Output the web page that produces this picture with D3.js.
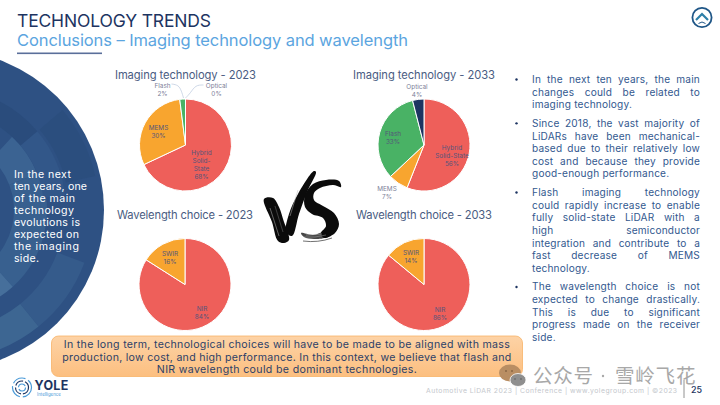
<!DOCTYPE html>
<html>
<head>
<meta charset="utf-8">
<script src="https://cdn.jsdelivr.net/npm/d3@7"></script>
<style>
html,body{margin:0;padding:0;background:#fff;}
svg{display:block;}
text{font-family:Inter,"Open Sans",sans-serif;}
</style>
</head>
<body>
<svg id="slide" width="720" height="405"></svg>
<script>
// pie data
var imaging2023Names = ["Hybrid Solid-State", "MEMS", "Flash", "Optical"];
var imaging2023Values = [68, 30, 2, 0];
var imaging2033Names = ["Hybrid Solid-State", "MEMS", "Flash", "Optical"];
var imaging2033Values = [56, 7, 33, 4];
var wavelength2023Names = ["NIR", "SWIR"];
var wavelength2023Values = [84, 16];
var wavelength2033Names = ["NIR", "SWIR"];
var wavelength2033Values = [86, 14];

// texts
var sideLines = ["In the next", "ten years, one", "of the main", "technology", "evolutions is", "expected on", "the imaging", "side."];
var sideWidths = [57, 73, 61, 60, 66, 65, 65, 25];
var calloutLines = [
  "In the long term, technological choices will have to be made to be aligned with mass",
  "production, low cost, and high performance. In this context, we believe that flash and",
  "NIR wavelength could be dominant technologies."
];
var calloutWidths = [446, 449, 260];
// each bullet: lines, last line of each is not justified
var bullets = [
  ["In the next ten years, the main", "changes could be related to", "imaging technology."],
  ["Since 2018, the vast majority of", "LiDARs have been mechanical-", "based due to their relatively low", "cost and because they provide", "good-enough performance."],
  ["Flash imaging technology", "could rapidly increase to enable", "fully solid-state LiDAR with a", "high semiconductor", "integration and contribute to a", "fast decrease of MEMS", "technology."],
  ["The wavelength choice is not", "expected to change drastically.", "This is due to significant", "progress made on the receiver", "side."]
];

var navy = "#1d3461", labelInk = "#55557a", outerInk = "#7d8199", titleInk = "#4a5c82", bodyInk = "#33598f";
var colorOf = {"Hybrid Solid-State":"#ee5f5a", "NIR":"#ee5f5a", "MEMS":"#f8a52f", "SWIR":"#f8a52f", "Flash":"#49b265", "Optical":"#1c3461"};

var svg = d3.select("#slide");

// fit a text element to a wanted width
function fitLetters(sel, w){
  var n = sel.text().length;
  var cur = sel.node().getComputedTextLength();
  sel.attr("letter-spacing", (w - cur) / (n - 1));
}

/******* header *******/
var t1 = svg.append("text").attr("x",17).attr("y",27).attr("font-size",17.5).attr("fill",navy).text("TECHNOLOGY TRENDS");
fitLetters(t1, 194);
var t2 = svg.append("text").attr("x",17).attr("y",46).attr("font-size",16.5).attr("fill","#5ba5e0").text("Conclusions \u2013 Imaging technology and wavelength");
fitLetters(t2, 391);
svg.append("rect").attr("x",17).attr("y",52.5).attr("width",85).attr("height",1.6).attr("fill","#5a6f9a");

// up button
var btn = svg.append("g").attr("transform","translate(702,17.5)");
btn.append("circle").attr("r",9.6).attr("fill","#fff").attr("stroke","#1f5687").attr("stroke-width",1.8);
btn.append("path").attr("d","M-6,2.5 L0,-3.5 L6,2.5").attr("fill","none").attr("stroke","#2d7fa8").attr("stroke-width",2.2);
btn.append("path").attr("d","M-3.5,6 Q0,3 3.5,6").attr("fill","none").attr("stroke","#1f5687").attr("stroke-width",1);

/******* left disc *******/
var disc = svg.append("g").attr("transform","translate(-56,210)");
disc.append("circle").attr("r",160).attr("fill","#2e5183");
var ringShades = [
  {r0:121,r1:150,a0:1.93,a1:2.46,c:"#355b8b"},
  {r0:121,r1:150,a0:2.46,a1:3.2,c:"#3d6692"},
  {r0:70,r1:103,a0:1.2,a1:2.41,c:"#38608f"},
  {r0:70,r1:103,a0:2.41,a1:3.2,c:"#466f9b"},
  {r0:70,r1:100,a0:0.75,a1:1.2,c:"#3b6392"},
  {r0:100,r1:122,a0:0.87,a1:1.45,c:"#325789"},
  {r0:100,r1:122,a0:0.45,a1:0.87,c:"#2a4c7c"},
  {r0:125,r1:155,a0:0.87,a1:1.35,c:"#2b4e7e"}
];
var ringArc = d3.arc().innerRadius(function(d){return d.r0;}).outerRadius(function(d){return d.r1;})
  .startAngle(function(d){return d.a0;}).endAngle(function(d){return d.a1;});
disc.selectAll("path").data(ringShades).enter().append("path").attr("d",ringArc).attr("fill",function(d){return d.c;});

svg.append("g").selectAll("text").data(sideLines).enter().append("text")
  .attr("x",14).attr("y",function(d,i){return 178+i*12.05;})
  .attr("font-size",10.6).attr("fill","#fff").text(function(d){return d;})
  .each(function(d,i){ fitLetters(d3.select(this), sideWidths[i]); });

/******* pies *******/
var pieGen = d3.pie().sort(null).value(function(d){return d.value;});
var pieRadius = 46;
var arcGen = d3.arc().innerRadius(0).outerRadius(pieRadius);

// label: x,y from pie centre, lines; leader: optional curve to the slice
function drawPie(cfg){
  var rows = cfg.names.map(function(n,i){return {name:n,value:cfg.values[i]};});
  var g = svg.append("g").attr("transform","translate("+cfg.cx+","+cfg.cy+")");
  g.selectAll("path.slice").data(pieGen(rows)).enter().append("path").attr("class","slice")
    .attr("d",arcGen).attr("fill",function(d){return colorOf[d.data.name];})
    .attr("stroke","#fff").attr("stroke-width",1);
  cfg.labels.forEach(function(l){
    if(l.leader){
      g.append("path").attr("d",d3.line().curve(d3.curveBasis)(l.leader)).attr("fill","none").attr("stroke","#b9c7dd").attr("stroke-width",0.7);
    }
    var tx = g.append("text").attr("text-anchor","middle").attr("font-size",6.4).attr("fill",l.fill||labelInk);
    l.lines.forEach(function(s,i){
      tx.append("tspan").attr("x",l.x).attr("y",l.y+i*8.1).text(s);
    });
  });
  var tt = svg.append("text").attr("x",cfg.titleX).attr("y",cfg.titleY).attr("font-size",11.2).attr("fill",titleInk).text(cfg.title);
  fitLetters(tt, cfg.titleW);
}

drawPie({title:"Imaging technology - 2023",titleX:115,titleY:79,titleW:141,cx:185.5,cy:145,
  names:imaging2023Names,values:imaging2023Values,labels:[
    {x:16,y:10,lines:["Hybrid","Solid-","State","68%"]},
    {x:-27,y:-15,lines:["MEMS","30%"]},
    {x:-23,y:-57.5,lines:["Flash","2%"],fill:outerInk,leader:[[-14,-61],[-7,-60],[-4,-54],[-2,-47]]},
    {x:31,y:-57.5,lines:["Optical","0%"],fill:outerInk,leader:[[18,-60],[10,-60],[5,-52],[0,-47]]}
  ]});
drawPie({title:"Imaging technology - 2033",titleX:353,titleY:79,titleW:142,cx:424,cy:145,
  names:imaging2033Names,values:imaging2033Values,labels:[
    {x:28,y:5,lines:["Hybrid","Solid-State","56%"]},
    {x:-31,y:-9,lines:["Flash","33%"]},
    {x:-37,y:46,lines:["MEMS","7%"],fill:outerInk},
    {x:-7,y:-56,lines:["Optical","4%"],fill:outerInk}
  ]});
drawPie({title:"Wavelength choice - 2023",titleX:117,titleY:219,titleW:136,cx:185,cy:284.5,
  names:wavelength2023Names,values:wavelength2023Values,labels:[
    {x:17,y:26,lines:["NIR","84%"]},
    {x:-15,y:-29,lines:["SWIR","16%"]}
  ]});
drawPie({title:"Wavelength choice - 2033",titleX:356,titleY:219,titleW:136,cx:424,cy:284.5,
  names:wavelength2033Names,values:wavelength2033Values,labels:[
    {x:16,y:27,lines:["NIR","86%"]},
    {x:-13,y:-30,lines:["SWIR","14%"]}
  ]});

/******* VS brush *******/
var vs = svg.append("g").attr("fill","#0b0b0b");
var blob = d3.line().curve(d3.curveCatmullRomClosed.alpha(0.5));
var brushV = [[264,199],[273,198],[279,207],[284,222],[287,230],[289,240],[284,243],[278,241],[272,222]];
var brushVArm = [[286,232],[289,214],[298,194],[314,171],[316,172],[307,192],[299,214],[292,236]];
var brushS = [[341,187],[333,185],[320,188],[314,193],[314,200],[323,206],[334,213],[339,224],[335,233],[324,238],[321,233],[326,226],[323,218],[312,214],[305,207],[305,195],[313,184],[326,180],[339,181]];
var brushSTail = [[325,232],[313,235],[301,233],[304,237],[314,239],[326,237]];
vs.append("path").attr("d",blob(brushV));
vs.append("path").attr("d",blob(brushVArm));
vs.append("path").attr("d",blob(brushS));
vs.append("path").attr("d",blob(brushSTail)).attr("opacity",0.75);
[["M298,190 L290,216",0.5],["M270,208 L279,236",0.5],["M275,206 L283,232",0.3],["M306,235 L322,234",0.5],["M304,237 Q315,238 326,235",0.4]].forEach(function(s){
  vs.append("path").attr("d",s[0]).attr("fill","none").attr("stroke","#bbb").attr("stroke-width",s[1]);
});
vs.append("path").attr("d","M303,241 Q318,243 332,238").attr("fill","none").attr("stroke","#333").attr("stroke-width",0.7);

/******* bullets *******/
var bodyG = svg.append("g");
var lineStep = 12.65, gapY = [0,5.9,5.9,5.9];
var bulletX = 532, bodyW = 168, yPos = 83;
bullets.forEach(function(lines,b){
  yPos += gapY[b];
  bodyG.append("circle").attr("cx",516.5).attr("cy",yPos-3.5).attr("r",1.2).attr("fill",navy);
  lines.forEach(function(s,i){
    var tx = bodyG.append("text").attr("x",bulletX).attr("y",yPos).attr("font-size",10.1).attr("fill",bodyInk).text(s);
    tx.attr("letter-spacing",0.2);
    if(i < lines.length-1){
      var extra = bodyW - tx.node().getComputedTextLength();
      var gaps = s.split(" ").length - 1;
      if(gaps > 0) tx.attr("word-spacing", extra/gaps);
    }
    yPos += lineStep;
  });
});

/******* callout *******/
var defs = svg.append("defs");
var grad = defs.append("linearGradient").attr("id","calloutFill").attr("x1",0).attr("x2",0).attr("y1",0).attr("y2",1);
grad.append("stop").attr("offset","0%").attr("stop-color","#fdd3a6");
grad.append("stop").attr("offset","100%").attr("stop-color","#fcbf80");
svg.append("rect").attr("x",51.5).attr("y",336).attr("width",471).attr("height",40.5).attr("rx",7)
  .attr("fill","url(#calloutFill)").attr("stroke","#f7b267").attr("stroke-width",0.8);
svg.append("g").selectAll("text").data(calloutLines).enter().append("text")
  .attr("x",287).attr("y",function(d,i){return 348+i*12.6;}).attr("text-anchor","middle")
  .attr("font-size",10.6).attr("fill","#2c3f68").text(function(d){return d;})
  .each(function(d,i){ fitLetters(d3.select(this), calloutWidths[i]); });

/******* footer *******/
var logo = svg.append("g").attr("transform","translate(22,387.5)");
[3.5,6.5,9.5].forEach(function(r,i){
  logo.append("circle").attr("r",r).attr("fill","none").attr("stroke",i==1?"#1d3461":"#4a9ad8").attr("stroke-width",1.2).attr("stroke-dasharray",i==2?"14 3":"9 2");
});
svg.append("text").attr("x",34.5).attr("y",390).attr("font-size",12.5).attr("font-weight",700).attr("fill",navy).attr("letter-spacing",0.3).text("YOLE");
svg.append("text").attr("x",37).attr("y",396).attr("font-size",4.4).attr("fill","#4a9ad8").text("Intelligence");

var foot = svg.append("text").attr("x",426).attr("y",393).attr("font-size",6.8).attr("fill","#c4c7cc").text("Automotive LiDAR 2023 | Conference | www.yolegroup.com | \u00a92023");
fitLetters(foot, 251);
svg.append("line").attr("x1",684).attr("x2",684).attr("y1",380).attr("y2",398).attr("stroke","#777").attr("stroke-width",0.8);
svg.append("text").attr("x",691).attr("y",393).attr("font-size",9).attr("font-weight",500).attr("fill",navy).text("25");

// watermark
var wm = svg.append("g");
wm.append("ellipse").attr("cx",510).attr("cy",373).attr("rx",11).attr("ry",8.5).attr("fill","#b98e63");
wm.append("ellipse").attr("cx",518).attr("cy",380).attr("rx",8).attr("ry",6.5).attr("fill","#8f8f8f").attr("stroke","#fff").attr("stroke-width",0.8);
[[506,371],[512,371]].forEach(function(p){ wm.append("circle").attr("cx",p[0]).attr("cy",p[1]).attr("r",1).attr("fill","#8a6645"); });
[[515,379],[521,379]].forEach(function(p){ wm.append("circle").attr("cx",p[0]).attr("cy",p[1]).attr("r",0.9).attr("fill","#6e6e6e"); });
wm.append("circle").attr("cx",603).attr("cy",376).attr("r",1.2).attr("fill","#a8a8a8");
[["\u516c\u4f17\u53f7",533],["\u96ea\u5cad\u98de\u82b1",615]].forEach(function(p){
  wm.append("text").attr("x",p[1]).attr("y",383).attr("font-size",19.5).attr("letter-spacing",0.8)
    .style("font-family","'Noto Sans CJK SC'").attr("fill","#a8a8a8").text(p[0]);
});
</script>
</body>
</html>
